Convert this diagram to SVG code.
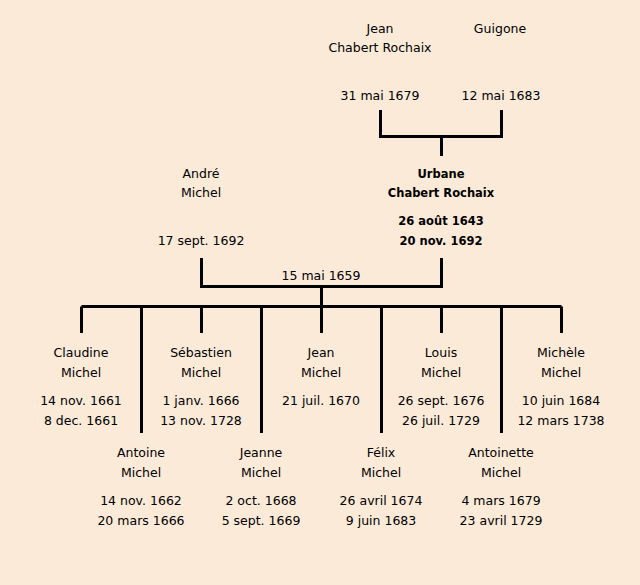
<svg xmlns="http://www.w3.org/2000/svg" width="640" height="585" viewBox="0 0 640 585">
<style>
text{font-family:"DejaVu Sans","Liberation Sans",sans-serif;font-size:12.5px;fill:#000;text-anchor:middle}
.b{font-weight:bold;font-size:11.5px}
.ln{stroke:#000;stroke-width:3;fill:none}
</style>
<rect width="640" height="585" fill="#FBEAD8"/>
<g id="connectors">
<path class="ln" d="M380.5,110 V136.5 H501.5 V110 M441.5,136.5 V156"/>
<path class="ln" d="M201.5,258 V286.5 H441.5 V258 M321.5,286.5 V306.5"/>
<path class="ln" d="M81.5,306.5 H561.5"/>
<path class="ln" d="M81.5,306.5 V333 M201.5,306.5 V333 M321.5,306.5 V333 M441.5,306.5 V333 M561.5,306.5 V333"/>
<path class="ln" d="M141.5,306.5 V433 M261.5,306.5 V433 M381.5,306.5 V433 M501.5,306.5 V433"/>
</g>
<g id="jean-chabert"><text x="380" y="33">Jean</text><text x="380" y="52">Chabert Rochaix</text><text x="380" y="100">31 mai 1679</text></g>
<g id="guigone"><text x="500" y="33">Guigone</text><text x="501" y="100">12 mai 1683</text></g>
<g id="andre"><text x="201" y="178">André</text><text x="201" y="197">Michel</text><text x="201" y="245">17 sept. 1692</text></g>
<g id="urbane"><text class="b" x="441" y="178">Urbane</text><text class="b" x="441" y="197">Chabert Rochaix</text><text class="b" x="441" y="225">26 août 1643</text><text class="b" x="441" y="245">20 nov. 1692</text></g>
<g id="marriage"><text x="321" y="280">15 mai 1659</text></g>
<g id="claudine"><text x="81" y="357">Claudine</text><text x="81" y="377">Michel</text><text x="81" y="405">14 nov. 1661</text><text x="81" y="425">8 dec. 1661</text></g>
<g id="sebastien"><text x="201" y="357">Sébastien</text><text x="201" y="377">Michel</text><text x="201" y="405">1 janv. 1666</text><text x="201" y="425">13 nov. 1728</text></g>
<g id="jean-michel"><text x="321" y="357">Jean</text><text x="321" y="377">Michel</text><text x="321" y="405">21 juil. 1670</text></g>
<g id="louis"><text x="441" y="357">Louis</text><text x="441" y="377">Michel</text><text x="441" y="405">26 sept. 1676</text><text x="441" y="425">26 juil. 1729</text></g>
<g id="michele"><text x="561" y="357">Michèle</text><text x="561" y="377">Michel</text><text x="561" y="405">10 juin 1684</text><text x="561" y="425">12 mars 1738</text></g>
<g id="antoine"><text x="141" y="457">Antoine</text><text x="141" y="477">Michel</text><text x="141" y="505">14 nov. 1662</text><text x="141" y="525">20 mars 1666</text></g>
<g id="jeanne"><text x="261" y="457">Jeanne</text><text x="261" y="477">Michel</text><text x="261" y="505">2 oct. 1668</text><text x="261" y="525">5 sept. 1669</text></g>
<g id="felix"><text x="381" y="457">Félix</text><text x="381" y="477">Michel</text><text x="381" y="505">26 avril 1674</text><text x="381" y="525">9 juin 1683</text></g>
<g id="antoinette"><text x="501" y="457">Antoinette</text><text x="501" y="477">Michel</text><text x="501" y="505">4 mars 1679</text><text x="501" y="525">23 avril 1729</text></g>
</svg>
